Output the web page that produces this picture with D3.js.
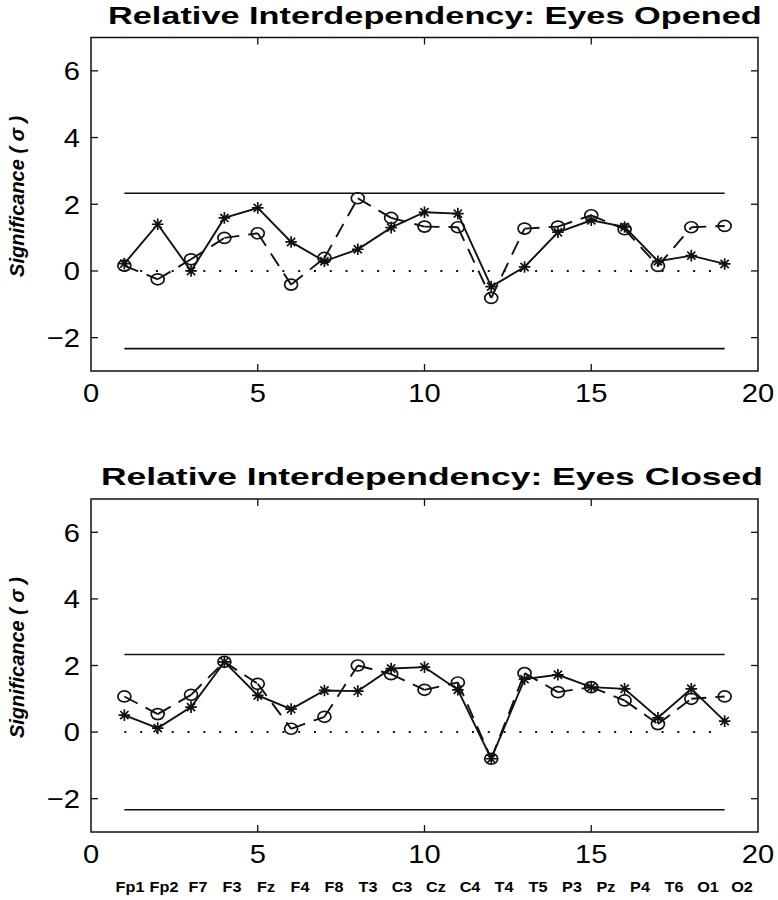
<!DOCTYPE html>
<html><head><meta charset="utf-8">
<script src="https://cdn.jsdelivr.net/npm/d3@7"></script>
<style>body{margin:0;background:#fff}svg{display:block}</style>
</head><body><svg id="c" width="778" height="900"></svg>
<script>
const electrodes = ["Fp1","Fp2","F7","F3","Fz","F4","F8","T3","C3","Cz","C4","T4","T5","P3","Pz","P4","T6","O1","O2"];
const channelIndex = [1,2,3,4,5,6,7,8,9,10,11,12,13,14,15,16,17,18,19];
const openStar   = [0.22,1.40,0.00,1.59,1.89,0.87,0.29,0.65,1.30,1.76,1.72,-0.47,0.12,1.16,1.52,1.32,0.29,0.46,0.21];
const openCircle = [0.16,-0.25,0.35,0.99,1.13,-0.41,0.39,2.18,1.59,1.33,1.31,-0.81,1.27,1.33,1.67,1.25,0.15,1.31,1.35];
const closedStar   = [0.51,0.12,0.75,2.11,1.10,0.69,1.25,1.23,1.91,1.95,1.27,-0.80,1.59,1.72,1.35,1.30,0.43,1.30,0.33];
const closedCircle = [1.07,0.54,1.12,2.11,1.45,0.10,0.46,2.00,1.74,1.27,1.49,-0.80,1.77,1.20,1.35,0.95,0.24,1.00,1.07];
const xTicks = [0,5,10,15,20];
const yTicks = [-2,0,2,4,6];
const threshold = 2.33;
const titles = ["Relative Interdependency: Eyes Opened","Relative Interdependency: Eyes Closed"];
const yLabel = "Significance ( \u03c3 )";

const svg = d3.select("#c");
const FONT = "'Liberation Sans', Arial, Helvetica, sans-serif";
const L = 91, R = 758;
const x = d3.scaleLinear().domain([0,20]).range([L,R]);

function stretchedText(g, str, tx, ty, target, size){
  const t = g.append("text").attr("x",0).attr("y",0)
    .style("font-family",FONT).style("font-weight","bold").style("font-size",size+"px").text(str);
  const w = t.node().getComputedTextLength();
  t.attr("transform",`translate(${tx},${ty}) scale(${target/w},1)`);
}

function panel(top, bot, title, tx, tw, starVals, circVals){
  const y = d3.scaleLinear().domain([-3,7]).range([bot,top]);
  const g = svg.append("g");
  stretchedText(g, title, tx, top-14, tw, 24);
  g.append("rect").attr("x",L).attr("y",top).attr("width",R-L).attr("height",bot-top)
    .attr("fill","none").attr("stroke","#111").attr("stroke-width",1.5);
  const tl = 7;
  xTicks.filter(d=>d>0&&d<20).forEach(d=>{
    g.append("line").attr("x1",x(d)).attr("x2",x(d)).attr("y1",bot).attr("y2",bot-tl).attr("stroke","#111").attr("stroke-width",1.3);
    g.append("line").attr("x1",x(d)).attr("x2",x(d)).attr("y1",top).attr("y2",top+tl).attr("stroke","#111").attr("stroke-width",1.3);
  });
  yTicks.forEach(d=>{
    g.append("line").attr("x1",L).attr("x2",L+tl).attr("y1",y(d)).attr("y2",y(d)).attr("stroke","#111").attr("stroke-width",1.3);
    g.append("line").attr("x1",R).attr("x2",R-tl).attr("y1",y(d)).attr("y2",y(d)).attr("stroke","#111").attr("stroke-width",1.3);
  });
  g.selectAll(".xl").data(xTicks).enter().append("text")
    .attr("transform",d=>`translate(${x(d)},${bot+31}) scale(1.12,1)`).attr("text-anchor","middle")
    .style("font-family",FONT).style("font-size","26px").text(d=>d);
  g.selectAll(".yl").data(yTicks).enter().append("text")
    .attr("transform",d=>`translate(80,${y(d)}) scale(1.12,1)`).attr("dy","0.36em").attr("text-anchor","end")
    .style("font-family",FONT).style("font-size","26px").text(d=>d<0?"\u2212"+Math.abs(d):d);
  g.append("text").attr("transform",`translate(24,${y(0)+6}) rotate(-90)`)
    .attr("text-anchor","start")
    .style("font-family",FONT).style("font-style","italic").style("font-weight","bold").style("font-size","20px")
    .text(yLabel);
  [threshold,-threshold].forEach(t=>{
    g.append("line").attr("x1",x(1)).attr("x2",x(19)).attr("y1",y(t)).attr("y2",y(t))
      .attr("stroke","#111").attr("stroke-width",1.6);
  });
  g.append("line").attr("x1",x(1)).attr("x2",x(19)).attr("y1",y(0)).attr("y2",y(0))
    .attr("stroke","#111").attr("stroke-width",2).attr("stroke-dasharray","2,13.8");
  const cpts = channelIndex.map((c,i)=>[x(c),y(circVals[i])]);
  for(let i=0;i<cpts.length-1;i++){
    g.append("path").attr("d",d3.line()([cpts[i],cpts[i+1]]))
      .attr("fill","none").attr("stroke","#111").attr("stroke-width",1.9).attr("stroke-dasharray","15,9");
  }
  const spts = channelIndex.map((c,i)=>[x(c),y(starVals[i])]);
  g.append("path").attr("d",d3.line()(spts)).attr("fill","none").attr("stroke","#111").attr("stroke-width",1.9);
  g.selectAll(".cm").data(cpts).enter().append("ellipse")
    .attr("cx",d=>d[0]).attr("cy",d=>d[1]).attr("rx",6.5).attr("ry",5.5)
    .attr("fill","none").attr("stroke","#111").attr("stroke-width",1.7);
  const s=5.8, s2=4.1;
  const starPath = `M${-s},0L${s},0M0,${-s}L0,${s}M${-s2},${-s2}L${s2},${s2}M${-s2},${s2}L${s2},${-s2}`;
  g.selectAll(".sm").data(spts).enter().append("path")
    .attr("transform",d=>`translate(${d[0]},${d[1]})`).attr("d",starPath)
    .attr("stroke","#111").attr("stroke-width",1.7).attr("fill","none");
}

panel(37.5, 371, titles[0], 108, 654, openStar, openCircle);
panel(499, 832, titles[1], 101, 662, closedStar, closedCircle);

const ex = d3.scalePoint().domain(electrodes).range([130,742]);
svg.selectAll(".el").data(electrodes).enter().append("text")
  .attr("transform",d=>`translate(${ex(d)},892) scale(1.08,1)`).attr("text-anchor","middle")
  .style("font-family",FONT).style("font-weight","bold").style("font-size","15px").text(d=>d);
</script></body></html>
